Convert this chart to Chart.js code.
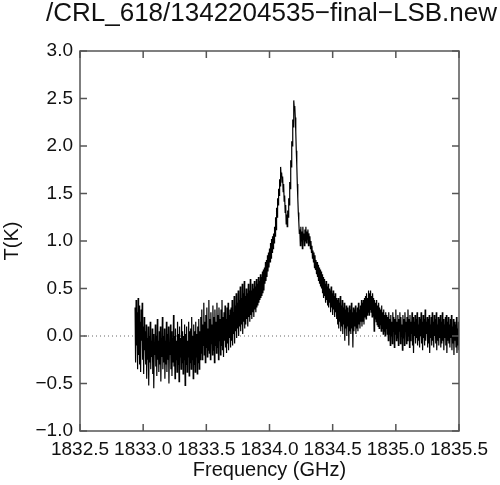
<!DOCTYPE html>
<html>
<head>
<meta charset="utf-8">
<script src="https://cdn.jsdelivr.net/npm/chart.js@4.4.1/dist/chart.umd.min.js"></script>
<style>
  html, body { margin: 0; padding: 0; background: #fff; }
  #wrap { width: 500px; height: 485px; }
</style>
</head>
<body>
<div id="wrap"><canvas id="spectrum"></canvas></div>
<script>
// spectrum channels: first channel frequency and channel width (GHz)
const freqStart = 1832.936;
const chanWidth = 0.004;

// antenna temperature per channel (K)
const tempK = [
  0.30, -0.28, 0.38, -0.10, 0.25, -0.35, 0.40, -0.20, 0.32, -0.30,
  0.15, -0.38, 0.28, -0.05, 0.35, -0.25, 0.10, -0.40, 0.20, -0.15,
  0.05, -0.30, 0.12, -0.45, -0.02, -0.25, 0.10, -0.52, 0.00, -0.28,
  0.15, -0.35, -0.05, -0.22, 0.08, -0.40, 0.02, -0.55, -0.08, -0.20,
  0.12, -0.32, 0.00, -0.42, 0.18, -0.25, -0.05, -0.38, 0.05, -0.30,
  0.10, -0.48, -0.02, -0.22, 0.20, -0.35, 0.00, -0.28, 0.08, -0.45,
  -0.05, -0.30, 0.15, -0.38, 0.02, -0.25, 0.10, -0.50, -0.08, -0.20,
  0.12, -0.35, 0.05, -0.42, -0.02, -0.28, 0.22, -0.32, 0.00, -0.45,
  0.08, -0.25, -0.05, -0.38, 0.15, -0.30, 0.02, -0.48, 0.10, -0.22,
  -0.02, -0.35, 0.18, -0.28, 0.05, -0.40, 0.00, -0.25, 0.12, -0.52,
  0.02, -0.30, 0.10, -0.38, -0.05, -0.22, 0.15, -0.42, 0.05, -0.28,
  0.08, -0.35, 0.20, -0.25, 0.00, -0.45, 0.12, -0.30, 0.05, -0.38,
  0.15, -0.22, 0.02, -0.40, 0.10, -0.28, 0.18, -0.35, 0.05, -0.25,
  0.20, -0.18, 0.28, -0.25, 0.12, -0.10, 0.35, -0.20, 0.15, -0.28,
  0.22, -0.12, 0.30, -0.22, 0.08, -0.15, 0.38, -0.18, 0.18, -0.25,
  0.25, -0.08, 0.12, -0.20, 0.32, -0.15, 0.20, -0.28, 0.28, -0.10,
  0.15, -0.18, 0.35, -0.12, 0.22, -0.25, 0.30, -0.05, 0.18, -0.20,
  0.28, -0.10, 0.38, -0.15, 0.20, -0.22, 0.25, -0.05, 0.32, -0.12,
  0.18, -0.18, 0.30, -0.08, 0.35, -0.15, 0.22, -0.02, 0.28, -0.12,
  0.30, -0.05, 0.38, -0.10, 0.25, 0.02, 0.42, -0.08, 0.32, 0.05,
  0.45, -0.02, 0.35, 0.08, 0.48, 0.00, 0.38, 0.10, 0.52, 0.05,
  0.40, 0.12, 0.55, 0.02, 0.45, 0.15, 0.58, 0.08, 0.42, 0.12,
  0.50, 0.18, 0.45, 0.10, 0.55, 0.20, 0.48, 0.15, 0.60, 0.22,
  0.48, 0.18, 0.55, 0.25, 0.50, 0.20, 0.58, 0.28, 0.52, 0.25,
  0.60, 0.30, 0.55, 0.32, 0.62, 0.35, 0.58, 0.38, 0.65, 0.40,
  0.62, 0.42, 0.68, 0.45,
  0.70, 0.48, 0.72, 0.55, 0.78, 0.58, 0.80, 0.62, 0.85, 0.68,
  0.88, 0.72, 0.92, 0.78, 0.98, 0.82, 1.02, 0.88, 1.05, 0.92,
  1.08, 0.98, 1.15, 1.05, 1.25, 1.12, 1.35, 1.25, 1.45, 1.38,
  1.55, 1.48, 1.65, 1.58, 1.78, 1.68,
  1.72, 1.62, 1.68, 1.52, 1.60, 1.42, 1.48, 1.30, 1.38, 1.18, 1.28, 1.15,
  1.32, 1.25, 1.45, 1.38, 1.62, 1.55, 1.85, 1.78, 2.05, 2.00, 2.28, 2.20, 2.48, 2.40,
  2.42, 2.30, 2.15, 1.95, 1.80, 1.60, 1.45, 1.30, 1.20, 1.08,
  1.12, 0.95, 1.15, 1.00, 1.10, 0.92, 1.15, 1.02, 1.08, 0.95,
  1.12, 1.00, 1.15, 0.98, 1.10, 1.02, 1.12, 0.95, 1.08, 0.98,
  1.05, 0.92, 1.00, 0.88,
  0.95, 0.82, 0.90, 0.78, 0.88, 0.72, 0.85, 0.70, 0.80, 0.65,
  0.78, 0.62, 0.75, 0.58, 0.72, 0.55, 0.70, 0.52, 0.68, 0.50,
  0.65, 0.45, 0.62, 0.40, 0.60, 0.42, 0.55, 0.35, 0.58, 0.38,
  0.52, 0.32, 0.55, 0.30, 0.50, 0.35, 0.48, 0.25, 0.52, 0.30,
  0.45, 0.22, 0.48, 0.28, 0.42, 0.20, 0.45, 0.25, 0.40, 0.18,
  0.38, 0.12, 0.40, 0.08, 0.35, 0.15, 0.42, 0.05, 0.32, 0.10,
  0.38, 0.02, 0.30, 0.12, 0.35, -0.05, 0.28, 0.08, 0.32, 0.00,
  0.30, 0.10, 0.25, -0.10, 0.32, 0.05, 0.28, 0.02, 0.35, 0.08,
  0.25, -0.12, 0.30, 0.05, 0.28, 0.10, 0.32, 0.02, 0.25, 0.08,
  0.30, 0.05, 0.35, 0.12, 0.28, 0.08, 0.32, 0.15, 0.38, 0.10,
  0.35, 0.15, 0.38, 0.12, 0.40, 0.20, 0.42, 0.18, 0.45, 0.22,
  0.40, 0.25, 0.48, 0.22, 0.45, 0.28, 0.48, 0.25, 0.42, 0.20,
  0.45, 0.22, 0.40, 0.05, 0.38, 0.18, 0.35, 0.15, 0.38, 0.12,
  0.32, 0.10, 0.35, 0.08, 0.30, 0.12, 0.28, 0.05, 0.32, 0.08,
  0.25, 0.02, 0.28, 0.05, 0.22, 0.00, 0.25, 0.08, 0.22, 0.02,
  0.20, -0.05, 0.25, 0.02, 0.18, -0.10, 0.22, 0.00, 0.15, -0.08,
  0.25, 0.05, 0.20, -0.12, 0.18, 0.02, 0.28, -0.05, 0.15, -0.02,
  0.22, -0.10, 0.18, 0.05, 0.25, -0.08, 0.20, 0.00, 0.12, -0.15,
  0.22, -0.02, 0.18, -0.10, 0.25, 0.05, 0.15, -0.08, 0.20, -0.05,
  0.28, 0.00, 0.18, -0.12, 0.22, -0.05, 0.15, 0.02, 0.25, -0.10,
  0.20, -0.18, 0.15, 0.00, 0.22, -0.08, 0.18, -0.02, 0.25, -0.10,
  0.12, -0.05, 0.20, -0.12, 0.18, 0.00, 0.25, -0.08, 0.15, -0.15,
  0.22, -0.02, 0.18, -0.10, 0.28, -0.05, 0.15, 0.02, 0.20, -0.12,
  0.18, -0.08, 0.22, -0.18, 0.12, -0.02, 0.20, -0.10, 0.25, -0.05,
  0.15, -0.12, 0.22, 0.00, 0.18, -0.08, 0.25, -0.15, 0.12, -0.05,
  0.20, -0.10, 0.18, -0.02, 0.22, -0.12, 0.15, -0.08, 0.25, -0.05,
  0.18, -0.15, 0.12, -0.02, 0.20, -0.10, 0.22, -0.18, 0.15, -0.05,
  0.20, -0.08, 0.12, -0.12, 0.18, -0.02, 0.22, -0.15, 0.10, -0.08,
  0.18, -0.20, 0.15, -0.05, 0.12, -0.12, 0.20, -0.18, 0.08, -0.10,
  0.15, -0.15
];

// axis ranges
const freqRange = [1832.5, 1835.5];
const tempRange = [-1.0, 3.0];

const axisColor = '#555';
const textColor = '#111';

Chart.defaults.font.family = '"Liberation Sans", Arial, Helvetica, sans-serif';
Chart.defaults.color = textColor;

const fmt = v => v.toFixed(1).replace('-', '\u2212');

// frame with inward tick marks on all four sides
const frameTicks = {
  id: 'frameTicks',
  afterDatasetsDraw(chart) {
    const { ctx, chartArea: a, scales: { x, y } } = chart;
    const len = 7;
    ctx.save();
    ctx.strokeStyle = axisColor;
    ctx.lineWidth = 1.5;
    ctx.strokeRect(a.left, a.top, a.width, a.height);
    ctx.beginPath();
    x.ticks.forEach(t => {
      const px = x.getPixelForValue(t.value);
      ctx.moveTo(px, a.bottom); ctx.lineTo(px, a.bottom - len);
      ctx.moveTo(px, a.top); ctx.lineTo(px, a.top + len);
    });
    y.ticks.forEach(t => {
      const py = y.getPixelForValue(t.value);
      ctx.moveTo(a.left, py); ctx.lineTo(a.left + len, py);
      ctx.moveTo(a.right, py); ctx.lineTo(a.right - len, py);
    });
    ctx.stroke();
    ctx.restore();
  }
};

const points = tempK.map((t, i) => ({ x: freqStart + i * chanWidth, y: t }));

new Chart(document.getElementById('spectrum'), {
  type: 'line',
  data: {
    datasets: [
      {
        label: 'T(K)',
        data: points,
        borderColor: '#000',
        borderWidth: 1.2,
        pointRadius: 0,
        tension: 0,
        order: 1
      },
      {
        label: 'zero',
        data: [{ x: freqRange[0], y: 0 }, { x: freqRange[1], y: 0 }],
        borderColor: '#666',
        borderWidth: 1,
        borderDash: [1, 3],
        pointRadius: 0,
        order: 2
      }
    ]
  },
  options: {
    responsive: true,
    maintainAspectRatio: false,
    animation: false,
    layout: { padding: { right: 3 } },
    plugins: {
      legend: { display: false },
      tooltip: { enabled: false },
      title: {
        display: true,
        text: '/CRL_618/1342204535\u2212final\u2212LSB.new',
        align: 'end',
        color: textColor,
        font: { size: 26, weight: 'normal', lineHeight: 1 },
        padding: { top: 1, bottom: 24 }
      }
    },
    scales: {
      x: {
        type: 'linear',
        min: freqRange[0],
        max: freqRange[1],
        grid: { display: false, drawTicks: false },
        border: { display: false },
        ticks: {
          stepSize: 0.5,
          autoSkip: false,
          maxRotation: 0,
          padding: 7,
          font: { size: 19 },
          callback: v => fmt(v)
        },
        title: {
          display: true,
          text: 'Frequency (GHz)',
          font: { size: 20 },
          padding: { top: 0, bottom: 3 }
        },
        afterFit: s => { s.height = 54; s.paddingRight = 41; }
      },
      y: {
        min: tempRange[0],
        max: tempRange[1],
        grid: { display: false, drawTicks: false },
        border: { display: false },
        ticks: {
          stepSize: 0.5,
          padding: 7,
          font: { size: 19 },
          callback: v => fmt(v)
        },
        title: {
          display: true,
          text: 'T(K)',
          font: { size: 20 },
          padding: { top: 0, bottom: 0 }
        },
        afterFit: s => { s.width = 80; }
      }
    }
  },
  plugins: [frameTicks]
});
</script>
</body>
</html>
